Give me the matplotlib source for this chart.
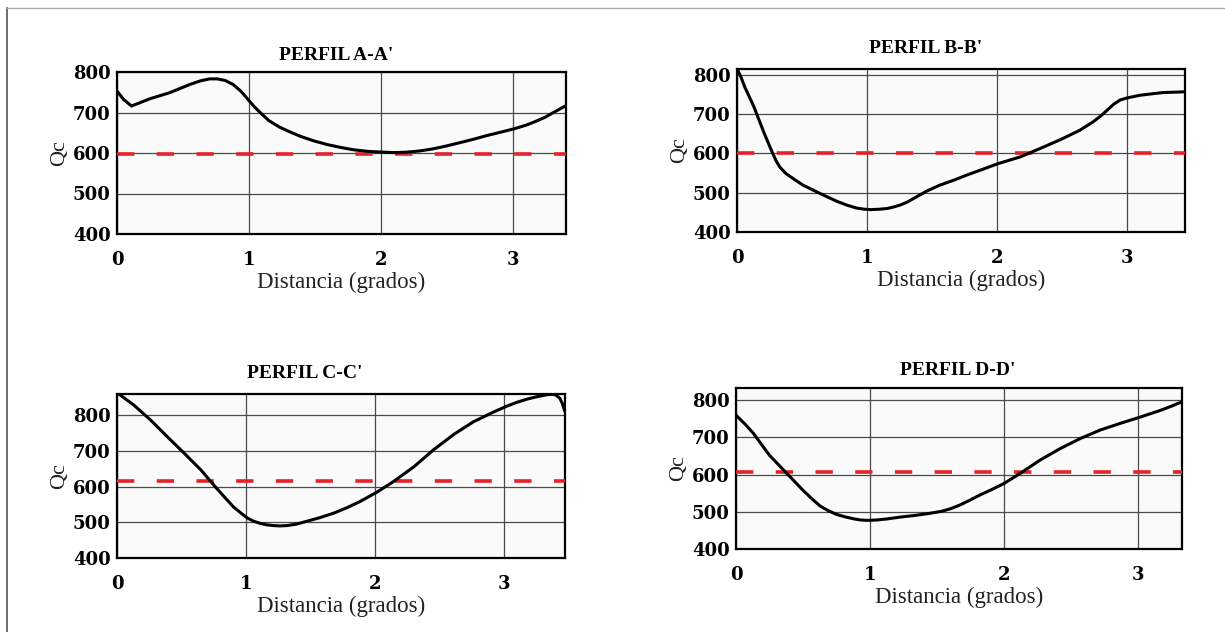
import matplotlib
matplotlib.use("Agg")
import matplotlib.pyplot as plt
from matplotlib.lines import Line2D

# ---------------- data ----------------
titles = ["PERFIL A-A'", "PERFIL B-B'", "PERFIL C-C'", "PERFIL D-D'"]

a_x = [0.00, 0.05, 0.11, 0.18, 0.25, 0.40, 0.55, 0.63, 0.70, 0.76, 0.82, 0.88, 0.94,
       0.99, 1.04, 1.09, 1.15, 1.23, 1.31, 1.39, 1.49, 1.59, 1.69, 1.79, 1.90, 2.02,
       2.10, 2.19, 2.29, 2.39, 2.49, 2.59, 2.70, 2.80, 2.90, 3.01, 3.10, 3.17, 3.24,
       3.30, 3.35, 3.40]
a_y = [753, 732, 716, 725, 734, 749, 769, 778, 783, 783, 779, 769, 752,
       733, 714, 698, 680, 664, 652, 641, 630, 621, 614, 608, 604, 602,
       601, 602, 605, 610, 617, 625, 634, 643, 651, 660, 669, 678, 688,
       699, 708, 717]

b_x = [0.00, 0.03, 0.06, 0.13, 0.21, 0.27, 0.30, 0.33, 0.38, 0.45, 0.51, 0.64, 0.77,
       0.85, 0.92, 0.98, 1.03, 1.10, 1.16, 1.21, 1.26, 1.31, 1.38, 1.46, 1.56, 1.67,
       1.77, 1.87, 2.01, 2.18, 2.33, 2.49, 2.64, 2.74, 2.80, 2.85, 2.90, 2.95, 3.00,
       3.10, 3.20, 3.28, 3.37, 3.45]
b_y = [816, 795, 769, 719, 651, 604, 582, 565, 548, 532, 519, 498, 478,
       468, 461, 458, 457, 458, 460, 464, 469, 476, 489, 504, 519, 532,
       545, 557, 574, 591, 612, 635, 659, 680, 695, 710, 725, 736, 741,
       748, 752, 755, 756, 757]

c_x = [0.01, 0.13, 0.26, 0.39, 0.52, 0.65, 0.77, 0.90, 0.96, 1.01, 1.06, 1.11, 1.16,
       1.21, 1.26, 1.32, 1.39, 1.47, 1.57, 1.68, 1.78, 1.88, 2.01, 2.14, 2.30, 2.45,
       2.61, 2.76, 2.92, 3.02, 3.10, 3.18, 3.26, 3.33, 3.37, 3.40, 3.43, 3.45, 3.47]
c_y = [861, 829, 787, 740, 694, 647, 596, 544, 526, 512, 503, 497, 493,
       491, 490, 491, 495, 503, 513, 526, 541, 558, 584, 614, 656, 703,
       747, 782, 810, 826, 837, 846, 853, 858, 859, 857, 848, 833, 810]

d_x = [0.00, 0.07, 0.13, 0.25, 0.38, 0.50, 0.57, 0.63, 0.69, 0.75, 0.82, 0.88, 0.93,
       0.98, 1.05, 1.13, 1.23, 1.33, 1.43, 1.53, 1.60, 1.67, 1.75, 1.82, 1.91, 2.00,
       2.12, 2.27, 2.42, 2.57, 2.72, 2.87, 3.02, 3.17, 3.25, 3.33]
d_y = [760, 735, 711, 652, 603, 558, 534, 515, 503, 493, 486, 481, 478,
       477, 478, 481, 486, 490, 495, 501, 508, 518, 532, 545, 560, 576,
       603, 639, 670, 697, 720, 738, 755, 773, 784, 796]

thresholds = [597, 600, 617, 608]          # red dashed reference level
x_max = [3.40, 3.45, 3.47, 3.33]
y_max = [800, 815, 860, 833]

x_ticks = [0, 1, 2, 3]
y_ticks = [400, 500, 600, 700, 800]
xlabel = "Distancia (grados)"
ylabel = "Qc"

series_x = [a_x, b_x, c_x, d_x]
series_y = [a_y, b_y, c_y, d_y]

# ---------------- layout ----------------
W, H = 1225, 632
fig = plt.figure(figsize=(W / 100, H / 100), dpi=100)
fig.patch.set_facecolor("white")

# axes boxes in pixels: left, top, right, bottom
boxes = [(117, 72, 566, 234), (737, 69, 1185, 232),
         (117, 394, 565, 558), (736, 388, 1182, 549)]
title_x = [0.488, 0.42, 0.42, 0.498]
title_pad = [8.6, 11.5, 11.5, 9.4]

serif = ["Liberation Serif", "DejaVu Serif"]
tickfont = ["DejaVu Serif"]

for i in range(4):
    l, t, r, b = boxes[i]
    ax = fig.add_axes([l / W, 1 - b / H, (r - l) / W, (b - t) / H])
    ax.set_facecolor("#fafafa")
    ax.set_xlim(0, x_max[i])
    ax.set_ylim(400, y_max[i])
    ax.set_xticks(x_ticks)
    ax.set_yticks(y_ticks)
    ax.grid(True, color="#4a4a4a", linewidth=0.9)
    ax.set_axisbelow(True)
    ax.axhline(thresholds[i], color="#e3222b", linewidth=2.6,
               dashes=(4.8, 6.2), zorder=3)
    ax.plot(series_x[i], series_y[i], color="black", linewidth=2.2,
            solid_joinstyle="round", solid_capstyle="round", zorder=4)
    for s in ax.spines.values():
        s.set_linewidth(1.6)
        s.set_color("black")
    ax.tick_params(axis="both", length=0)
    ax.tick_params(axis="y", pad=4.5)
    ax.tick_params(axis="x", pad=12)
    for lab in ax.get_yticklabels():
        lab.set_fontfamily(tickfont)
        lab.set_fontweight("bold")
        lab.set_fontsize(13)
    for lab in ax.get_xticklabels():
        lab.set_fontfamily(tickfont)
        lab.set_fontweight("bold")
        lab.set_fontsize(13)
    ax.set_title(titles[i], x=title_x[i], pad=title_pad[i], fontfamily=serif,
                 fontweight="bold", fontsize=14)
    ax.set_xlabel(xlabel, fontfamily=serif, fontsize=16.5, labelpad=2, color="#222222")
    ax.set_ylabel(ylabel, fontfamily=serif, fontsize=16, labelpad=3, color="#222222")

# outer frame (left and top edges only, as in the reference)
fig.add_artist(Line2D([7 / W, 7 / W], [0, 1 - 8 / H], color="#555555",
                      linewidth=1.2, transform=fig.transFigure))
fig.add_artist(Line2D([7 / W, 1], [1 - 8 / H, 1 - 8 / H], color="#aaaaaa",
                      linewidth=1.0, transform=fig.transFigure))

fig.savefig("out.png", dpi=100)
